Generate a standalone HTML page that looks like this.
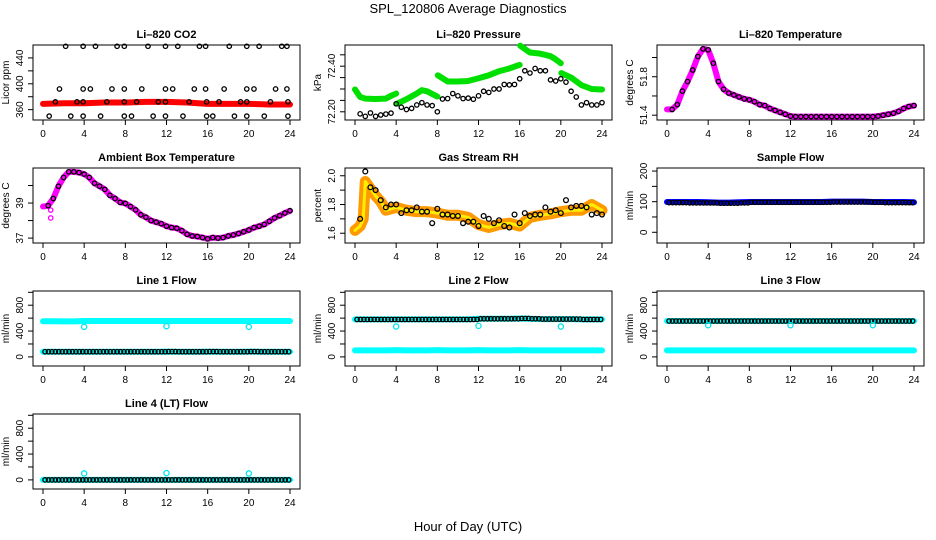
<!DOCTYPE html>
<html><head><meta charset="utf-8"><style>
body{margin:0;background:#fff}
svg{display:block;font-family:"Liberation Sans",sans-serif}
</style></head><body>
<svg id="chart" width="936" height="540" viewBox="0 0 936 540">
<text x="468" y="13" text-anchor="middle" font-size="13">SPL_120806  Average Diagnostics</text>
<text x="468" y="531" text-anchor="middle" font-size="13">Hour of Day (UTC)</text>
</svg>
<script>
// ---- data ----
const xTicks=[0,4,8,12,16,20,24];
const co2Hours=[2.2,3.9,5.1,7.2,7.9,10.2,11.9,13.1,15.2,15.8,18.1,19.8,21.0,23.2,23.7,
1.6,3.9,4.6,6.7,7.9,9.6,11.9,12.6,14.7,15.8,17.6,19.8,20.5,22.6,23.7,
1.2,3.3,3.9,6.2,7.9,9.1,11.2,11.9,14.2,15.9,17.1,19.2,19.8,22.1,23.8,
0.6,2.7,3.9,5.6,7.9,8.6,10.7,11.9,13.6,15.9,16.5,18.6,19.8,21.5,23.8];
const co2Vals=[458,458,458,458,458,458,458,458,458,458,458,458,458,458,458,
392,392,392,392,392,392,392,392,392,392,392,392,392,392,392,
372,372,372,372,372,372,372,372,372,372,372,372,372,372,372,
350,350,350,350,350,350,350,350,350,350,350,350,350,350,350];
const co2RedHours=[0,2,4,6,8,10,12,14,16,18,20,22,24];
const co2Red=[369,370,370,371,371,372,372,371,369,369,369,368,368];
const pressGreenHours=[0,0.5,1,2,3,3.5,4, 4.1,5,6,6.5,7,8, 8.05,9,10,11,12,13,14,15,16, 16.05,17,18,19,19.5,20, 20.05,21,22,23,24];
const pressGreen=[72.298,72.265,72.258,72.256,72.258,72.27,72.28, 72.236,72.255,72.28,72.295,72.29,72.267, 72.36,72.333,72.333,72.335,72.347,72.36,72.378,72.39,72.406, 72.49,72.46,72.455,72.444,72.43,72.413, 72.37,72.35,72.317,72.30,72.298];
const pressBlack=[72.191,72.18,72.195,72.18,72.186,72.19,72.194,72.235,72.22,72.21,72.215,72.23,72.24,72.23,72.227,72.2,72.256,72.258,72.28,72.27,72.258,72.26,72.255,72.27,72.29,72.285,72.30,72.30,72.32,72.318,72.32,72.345,72.38,72.37,72.39,72.38,72.38,72.34,72.335,72.345,72.33,72.29,72.265,72.23,72.24,72.23,72.23,72.24];
const tempVals=[51.46,51.46,51.51,51.65,51.75,51.87,52.01,52.09,52.08,51.94,51.75,51.67,51.63,51.61,51.59,51.57,51.56,51.54,51.51,51.50,51.47,51.45,51.43,51.41,51.39,51.385,51.385,51.385,51.385,51.385,51.385,51.385,51.385,51.385,51.385,51.385,51.385,51.385,51.385,51.385,51.385,51.39,51.40,51.41,51.42,51.44,51.47,51.49,51.50];
const ambVals=[38.8,38.85,39.26,39.96,40.46,40.78,40.78,40.74,40.65,40.46,40.13,39.96,39.78,39.44,39.26,39.04,38.98,38.8,38.61,38.33,38.19,38.0,37.91,37.82,37.68,37.6,37.56,37.42,37.22,37.12,37.09,37.03,36.96,37.03,37.0,37.03,37.12,37.18,37.26,37.36,37.46,37.6,37.68,37.78,37.96,38.15,38.28,38.43,38.56];
const rhBandHours=[0,0.5,0.8,1,1.5,2,2.5,3,3.5,4,5,6,7,8,9,10,11,12,13,14,15,16,17,18,19,20,21,22,23,24];
const rhBand=[1.62,1.65,1.70,1.96,1.91,1.86,1.82,1.76,1.77,1.78,1.76,1.75,1.75,1.74,1.725,1.725,1.71,1.66,1.64,1.66,1.67,1.65,1.71,1.725,1.735,1.75,1.76,1.76,1.80,1.76];
const rhBlack=[1.70,2.03,1.92,1.90,1.83,1.78,1.80,1.80,1.74,1.76,1.76,1.78,1.75,1.75,1.67,1.77,1.73,1.73,1.72,1.72,1.67,1.68,1.68,1.65,1.72,1.70,1.67,1.69,1.65,1.64,1.73,1.67,1.74,1.72,1.73,1.73,1.78,1.75,1.76,1.74,1.83,1.78,1.79,1.79,1.78,1.73,1.74,1.73];
const hourly=[0,1,2,3,4,5,6,7,8,9,10,11,12,13,14,15,16,17,18,19,20,21,22,23,24];
const sampleBlue=[99,99,99,99,98,97,97,98,99,99,99,99,99,99,99,99,100,100,100,100,99,99,99,99,98];
const sampleBlack=[97,97,96,96,96,95,95,96,98,98,98,98,98,98,98,98,99,99,99,99,98,97,97,97,96];
const line1Cyan=[552,552,550,550,555,555,555,555,555,555,555,555,555,555,555,555,555,555,555,555,555,555,555,555,555];
const line1Black=[80,80,80,80,80,80,80,80,80,80,80,80,82,80,80,80,82,80,80,80,82,80,80,80,80];
const line2Cyan=[100,100,100,100,105,100,100,100,105,100,100,100,105,100,100,100,105,100,100,100,100,100,100,100,100];
const line2Black=[580,580,580,580,580,580,580,580,580,580,580,580,590,590,590,590,595,590,585,585,585,585,580,580,580];
const line3Cyan=[100,100,100,100,100,100,100,100,100,100,100,100,100,100,100,100,100,100,100,100,100,100,100,100,100];
const line3Black=[555,555,555,555,555,555,555,555,555,555,555,555,555,555,555,555,555,555,555,555,555,555,555,555,555];
const line4Cyan=[0,0,0,0,0,0,0,0,0,0,0,0,0,0,0,0,0,0,0,0,0,0,0,0,0];
const line4Black=[0,0,0,0,0,0,0,0,0,0,0,0,0,0,0,0,0,0,0,0,0,0,0,0,0];
const outlierHours=[4,12,20];
const line1Out=[465,475,465];
const line2Out=[470,480,470];
const line3Out=[490,490,490];
const line4Out=[100,105,100];

// ---- rendering ----
const svg=document.getElementById('chart');
const NS='http://www.w3.org/2000/svg';
const colL=[33,345,657], rowT=[45,168,291,414], W=267, H=75;
function mk(tag,attrs,parent){const e=document.createElementNS(NS,tag);for(const k in attrs)e.setAttribute(k,attrs[k]);(parent||svg).appendChild(e);return e;}
function halfHours(n,start){const a=[];for(let i=0;i<n;i++)a.push(start+0.5*i);return a;}

function panel(c,r,title,ylab,ymin,ymax,ticks,labels,name){
  const g=mk('g',{});
  
  
  const L=colL[c],T=rowT[r];
  const sx=h=>L+10+h*(W-20)/24;
  const sy=v=>T+H*(ymax-v)/(ymax-ymin);
  const b=mk('rect',{x:L,y:T,width:W,height:H,fill:'none',stroke:'#000','stroke-width':1},g);
  
  
  const t=mk('text',{x:L+W/2,y:T-7,'text-anchor':'middle','font-size':11,'font-weight':'bold'},g);
  t.textContent=title;
  
  
  // x axis
  const xa=mk('g',{},g);
  
  
  mk('line',{x1:sx(0),x2:sx(24),y1:T+H,y2:T+H,stroke:'#000'},xa);
  xTicks.forEach(h=>{mk('line',{x1:sx(h),x2:sx(h),y1:T+H,y2:T+H+5,stroke:'#000'},xa);
    const tx=mk('text',{x:sx(h),y:T+H+17,'text-anchor':'middle','font-size':10},xa);tx.textContent=h;});
  // y axis
  const ya=mk('g',{},g);
  
  
  mk('line',{x1:L,x2:L,y1:sy(ticks[0]),y2:sy(ticks[ticks.length-1]),stroke:'#000'},ya);
  ticks.forEach(v=>mk('line',{x1:L-5,x2:L,y1:sy(v),y2:sy(v),stroke:'#000'},ya));
  labels.forEach(v=>{const y=sy(v);const tx=mk('text',{x:L-10,y:y,'text-anchor':'middle','font-size':10,transform:`rotate(-90 ${L-10} ${y})`},ya);tx.textContent=v;});
  const yl=mk('text',{x:L-24,y:T+H/2,'text-anchor':'middle','font-size':10,transform:`rotate(-90 ${L-24} ${T+H/2})`},g);
  yl.textContent=ylab;
  
  
  return {g,sx,sy};
}
function band(p,hs,vs,color,w,name){
  const pts=hs.map((h,i)=>p.sx(h)+','+p.sy(vs[i])).join(' ');
  const e=mk('polyline',{points:pts,fill:'none',stroke:color,'stroke-width':w,'stroke-linejoin':'round','stroke-linecap':'round'},p.g);
  
  
}
function circles(p,hs,vs,color,rad,name){
  const gg=mk('g',{},p.g);
  
  
  hs.forEach((h,i)=>mk('circle',{cx:p.sx(h),cy:p.sy(vs[i]),r:rad,fill:'none',stroke:color,'stroke-width':1.3},gg));
}
function flowDense(p,hs,vs,color,name){
  // circles every 1/3 hour along the hourly values (each drawn at its own hourly value)
  const gg=mk('g',{},p.g);
  
  
  hs.forEach((h,i)=>{ if(i===hs.length-1) return;
    [0,1/3,2/3].forEach(o=>mk('circle',{cx:p.sx(h+o+0.2),cy:p.sy(vs[i]),r:2.2,fill:'none',stroke:color,'stroke-width':1.3},gg));});
}

// CO2
let p=panel(0,0,'Li\u2013820 CO2','Licor ppm',344,460,[360,380,400,420,440],[360,400,440],'co2');
band(p,co2RedHours,co2Red,'#ff0000',6,'co2-red-series');
circles(p,co2Hours,co2Vals,'#000',2.2,'co2-black-series');
// Pressure
p=panel(1,0,'Li\u2013820 Pressure','kPa',72.164,72.493,[72.20,72.25,72.30,72.35,72.40,72.45],['72.20','72.40'],'pressure');
[[0,7],[7,13],[13,22],[22,28],[28,33]].forEach(([a,b])=>band(p,pressGreenHours.slice(a,b),pressGreen.slice(a,b),'#00e000',6,'pressure-green-series'));
circles(p,halfHours(48,0.5),pressBlack,'#000',2.2,'pressure-black-series');
// Li temp
p=panel(2,0,'Li\u2013820 Temperature','degrees C',51.35,52.13,[51.4,51.6,51.8,52.0],['51.4','51.8'],'li-temp');
band(p,halfHours(49,0),tempVals,'#ff00ff',6,'li-temp-magenta-series');
circles(p,halfHours(48,0.5),tempVals.slice(1),'#000',2.2,'li-temp-black-series');
// Ambient
p=panel(0,1,'Ambient Box Temperature','degrees C',36.72,41,[37,38,39,40],[37,39],'ambient');
band(p,halfHours(49,0),ambVals,'#ff00ff',6,'ambient-magenta-series');
circles(p,[0.75,0.75],[38.15,38.6],'#ff00ff',2.2,'ambient-outliers');
circles(p,halfHours(48,0.5),ambVals.slice(1),'#000',2.2,'ambient-black-series');
// RH
p=panel(1,1,'Gas Stream RH','percent',1.532,2.054,[1.6,1.7,1.8,1.9,2.0],['1.6','1.8','2.0'],'rh');
band(p,rhBandHours,rhBand,'#ff9900',11,'rh-orange-series');
band(p,rhBandHours,rhBand,'#ffee00',3,'rh-yellow-series');
circles(p,halfHours(48,0.5),rhBlack,'#000',2.4,'rh-black-series');
// Sample flow
p=panel(2,1,'Sample Flow','ml/min',-35,210,[0,50,100,150,200],[0,100,200],'sample-flow');
band(p,hourly,sampleBlue,'#0000ff',6,'sample-blue-series');
flowDense(p,hourly,sampleBlack,'#000','sample-black-series');
// Flows
const fT=[0,200,400,600,800,1000], fL=[0,400,800];
p=panel(0,2,'Line 1 Flow','ml/min',-141,1020,fT,fL,'line1-flow');
band(p,hourly,line1Cyan,'#00ffff',6,'line1-cyan-upper');
band(p,hourly,line1Black,'#00ffff',6,'line1-cyan-lower');
flowDense(p,hourly,line1Black,'#000','line1-black-series');
circles(p,outlierHours,line1Out,'#00e5ee',2.6,'line1-outliers');
p=panel(1,2,'Line 2 Flow','ml/min',-141,1020,fT,fL,'line2-flow');
band(p,hourly,line2Cyan,'#00ffff',6,'line2-cyan-lower');
band(p,hourly,line2Black,'#00ffff',6,'line2-cyan-upper');
flowDense(p,hourly,line2Black,'#000','line2-black-series');
circles(p,outlierHours,line2Out,'#00e5ee',2.6,'line2-outliers');
p=panel(2,2,'Line 3 Flow','ml/min',-141,1020,fT,fL,'line3-flow');
band(p,hourly,line3Cyan,'#00ffff',6,'line3-cyan-lower');
band(p,hourly,line3Black,'#00ffff',6,'line3-cyan-upper');
flowDense(p,hourly,line3Black,'#000','line3-black-series');
circles(p,outlierHours,line3Out,'#00e5ee',2.6,'line3-outliers');
p=panel(0,3,'Line 4 (LT) Flow','ml/min',-141,1020,fT,fL,'line4-flow');
band(p,hourly,line4Cyan,'#00ffff',6,'line4-cyan-series');
flowDense(p,hourly,line4Black,'#000','line4-black-series');
circles(p,outlierHours,line4Out,'#00e5ee',2.6,'line4-outliers');
</script>
</body></html>
